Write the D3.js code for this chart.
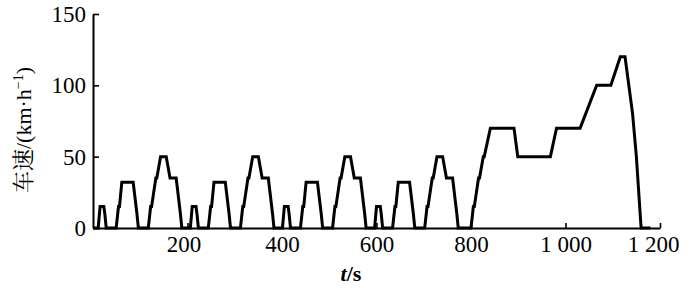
<!DOCTYPE html>
<html><head><meta charset="utf-8">
<script src="https://cdn.jsdelivr.net/npm/d3@7"></script>
<style>body{margin:0;background:#fff}svg{display:block}</style>
</head><body>
<svg id="c" width="700" height="289" style="font-family:'Liberation Serif'"></svg>
<script>
// Time (s) and vehicle speed (km/h), NEDC-type cycle
const timeS = [
  0,11,15,23,25,28,49,54,56,61,85,93,96,117,122,124,133,135,143,155,163,176,185,188,
  195,206,210,218,220,223,244,249,251,256,280,288,291,312,317,319,328,330,338,350,358,371,380,383,
  390,401,405,413,415,418,439,444,446,451,475,483,486,507,512,514,523,525,533,545,553,566,575,578,
  585,596,600,608,610,613,634,639,641,646,670,678,681,702,707,709,718,720,728,740,748,761,770,773,
  780,800,805,807,816,818,826,828,841,891,899,968,981,1031,1066,1096,1116,1126,1142,1150,1160,1180
];
const speedKmh = [
  0,0,15,15,10,0,0,15,15,32,32,10,0,0,15,15,35,35,50,50,35,35,10,0,
  0,0,15,15,10,0,0,15,15,32,32,10,0,0,15,15,35,35,50,50,35,35,10,0,
  0,0,15,15,10,0,0,15,15,32,32,10,0,0,15,15,35,35,50,50,35,35,10,0,
  0,0,15,15,10,0,0,15,15,32,32,10,0,0,15,15,35,35,50,50,35,35,10,0,
  0,0,15,15,35,35,50,50,70,70,50,50,70,70,100,100,120,120,80,50,0,0
];
const xTicks = [200,400,600,800,1000,1200];
const xTickLabels = ["200","400","600","800","1 000","1 200"];
const yTicks = [0,50,100,150];
const yTickLabels = ["0","50","100","150"];

const svg = d3.select("#c");
const x = d3.scaleLinear().domain([0,1200]).range([93,660]);
const y = d3.scaleLinear().domain([0,150]).range([228,14]);
const SERIF = "Liberation Serif";

const data = timeS.map((t,i)=>({t, v: speedKmh[i]}));

svg.append("path")
  .datum(data)
  .attr("fill","none")
  .attr("stroke","#000")
  .attr("stroke-width",3)
  .attr("stroke-linejoin","miter")
  .attr("d", d3.line().x(d=>x(d.t)).y(d=>y(d.v)));

const gx = svg.append("g").attr("transform",`translate(0,${y(0)})`);
gx.call(d3.axisBottom(x)
  .tickValues(xTicks)
  .tickFormat((d,i)=>xTickLabels[i])
  .tickSizeInner(-5).tickSizeOuter(0).tickPadding(8));

const gy = svg.append("g").attr("transform",`translate(${x(0)},0)`);
gy.call(d3.axisLeft(y)
  .tickValues(yTicks)
  .tickFormat((d,i)=>yTickLabels[i])
  .tickSizeInner(-6).tickSizeOuter(0).tickPadding(7));

[gx,gy].forEach(g=>{
  g.attr("font-family",SERIF).attr("font-size",23);
  g.selectAll(".domain").attr("stroke","#000").attr("stroke-width",2);
  g.selectAll(".tick line").attr("stroke","#000").attr("stroke-width",1.6);
  g.selectAll("text").attr("font-family",SERIF).style("font-family",SERIF).style("font-size","23px").attr("fill","#000");
});
gx.selectAll(".tick text").filter(d=>d===1200).attr("dx",-7);
gx.selectAll(".tick text").filter(d=>d===200).attr("dx",-4);

// x-axis title
const xt = svg.append("text")
  .attr("x",351).attr("y",281)
  .attr("text-anchor","middle")
  .style("font-family",SERIF).style("font-size","22px");
xt.append("tspan").style("font-style","italic").style("font-weight","bold").text("t");
xt.append("tspan").style("font-weight","bold").text("/s");

// y-axis title
const yt = svg.append("text")
  .attr("transform","translate(31,130) rotate(-90)")
  .attr("text-anchor","middle")
  .style("font-family",SERIF).style("font-size","22px");
yt.append("tspan").style("font-family","Noto Serif CJK SC").text("车速");
yt.append("tspan").text("/(km·h");
yt.append("tspan").style("font-size","14px").attr("dy",-8).text("−1");
yt.append("tspan").attr("dy",8).text(")");
</script>
</body></html>
